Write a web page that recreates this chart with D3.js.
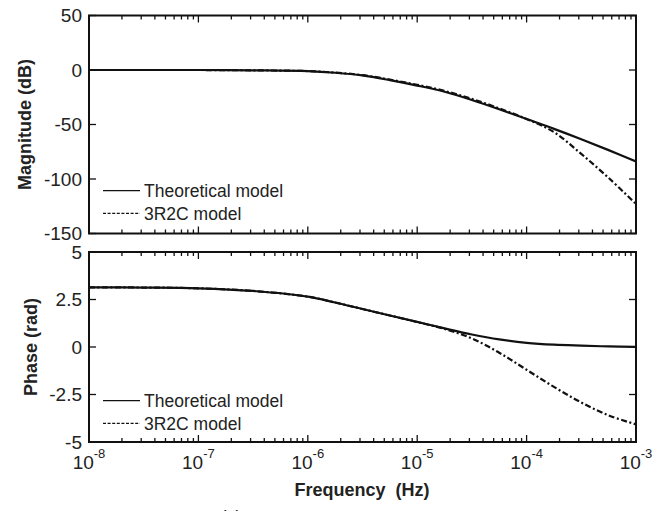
<!DOCTYPE html>
<html>
<head>
<meta charset="utf-8">
<title>Bode plot: theoretical vs 3R2C model</title>
<style type="text/css">
body{ margin: 0; background: #fff; }
svg{ display: block; font-family: "Liberation Sans", Arial, sans-serif; }
.frame{ fill: none; stroke: #111; stroke-width: 2; }
.tick{ stroke: #111; stroke-width: 1.3; }
.curve{ fill: none; stroke: #111; stroke-width: 2.2; }
.dashdot{ stroke-dasharray: 6,2.5,2,2.5; }
.ticklab{ font-size: 19px; fill: #222; }
.axlab{ font-size: 18px; font-weight: bold; fill: #222; }
.legtxt{ font-size: 17.5px; fill: #222; }
</style>
<script type="text/javascript" src="https://cdn.jsdelivr.net/npm/d3@7/dist/d3.min.js"></script>
</head>
<body>
<script>
// frequency grid (Hz)
var freq = [1e-8, 3.16e-8, 1e-7, 3.16e-7, 1e-6, 1.78e-6, 3.16e-6, 5.62e-6, 1e-5,
            1.78e-5, 3.16e-5, 5.62e-5, 1e-4, 1.78e-4, 3.16e-4, 5.62e-4, 1e-3];

// magnitude (dB)
var magTheory = [0, 0, 0, -0.3, -1.0, -2.5, -5, -9.3, -14.3, -20, -27.5, -36, -45, -54, -63.5, -73.5, -84];
var mag3R2C   = [0, 0, 0, -0.3, -1.0, -2.4, -4.7, -8.8, -13.6, -19.2, -26.5, -35.2, -45, -57, -77, -99, -123];

// phase (rad)
var phaseTheory = [3.14, 3.13, 3.09, 2.95, 2.65, 2.34, 2.0, 1.66, 1.32, 0.98, 0.66, 0.40, 0.22, 0.12, 0.07, 0.03, 0.01];
var phase3R2C   = [3.14, 3.13, 3.09, 2.95, 2.65, 2.34, 2.0, 1.66, 1.31, 0.95, 0.45, -0.3, -1.2, -2.1, -2.92, -3.6, -4.07];

var xTicks = [1e-8, 1e-7, 1e-6, 1e-5, 1e-4, 1e-3];
var xTickExp = ["-8", "-7", "-6", "-5", "-4", "-3"];
var magTicks = [50, 0, -50, -100, -150];
var phaseTicks = [5, 2.5, 0, -2.5, -5];
var phaseTickLabels = ["5", "2.5", "0", "-2.5", "-5"];
var legendNames = ["Theoretical model", "3R2C model"];

const width = 666, height = 511;
const left = 89, right = 636;

const svg = d3.select("body").append("svg").attr("width", width).attr("height", height);

const x = d3.scaleLog().domain([1e-8, 1e-3]).range([left, right]);

// minor log ticks
var minor = [];
xTicks.slice(0, -1).forEach(function(t){
  for (var k = 2; k <= 9; k++) minor.push(t * k);
});

function panel(top, bottom, yDomain, yTickVals, yTickText, ylabel, labelX, series, legY, clipId) {
  const y = d3.scaleLinear().domain(yDomain).range([bottom, top]);
  const g = svg.append("g");

  svg.append("defs").append("clipPath").attr("id", clipId)
    .append("rect").attr("x", left).attr("y", top).attr("width", right - left).attr("height", bottom - top);

  // curves
  const line = d3.line().x(d => x(d[0])).y(d => y(d[1])).curve(d3.curveCatmullRom.alpha(0.5));
  series.forEach(function(s, i){
    g.append("path")
      .datum(freq.map((f, j) => [f, s[j]]))
      .attr("class", i === 0 ? "curve" : "curve dashdot")
      .attr("clip-path", "url(#" + clipId + ")")
      .attr("d", line);
  });

  // frame
  g.append("rect").attr("class", "frame")
    .attr("x", left).attr("y", top).attr("width", right - left).attr("height", bottom - top);

  // x ticks, inward, top and bottom
  xTicks.forEach(function(t){
    g.append("line").attr("class", "tick").attr("x1", x(t)).attr("x2", x(t)).attr("y1", bottom).attr("y2", bottom - 7);
    g.append("line").attr("class", "tick").attr("x1", x(t)).attr("x2", x(t)).attr("y1", top).attr("y2", top + 7);
  });
  minor.forEach(function(t){
    g.append("line").attr("class", "tick").attr("x1", x(t)).attr("x2", x(t)).attr("y1", bottom).attr("y2", bottom - 4);
    g.append("line").attr("class", "tick").attr("x1", x(t)).attr("x2", x(t)).attr("y1", top).attr("y2", top + 4);
  });

  // y ticks, inward, left and right
  yTickVals.forEach(function(v, i){
    g.append("line").attr("class", "tick").attr("x1", left).attr("x2", left + 7).attr("y1", y(v)).attr("y2", y(v));
    g.append("line").attr("class", "tick").attr("x1", right).attr("x2", right - 7).attr("y1", y(v)).attr("y2", y(v));
    g.append("text").attr("class", "ticklab")
      .attr("x", left - 7).attr("y", y(v)).attr("dy", "0.36em")
      .attr("text-anchor", "end").text(yTickText[i]);
  });

  // y label
  g.append("text").attr("class", "axlab")
    .attr("transform", "translate(" + labelX + "," + ((top + bottom) / 2) + ") rotate(-90)")
    .attr("text-anchor", "middle").text(ylabel);

  // legend
  legendNames.forEach(function(name, i){
    var ly = legY + i * 22.6;
    g.append("line").attr("class", "curve")
      .style("stroke-width", 1.2)
      .style("stroke-dasharray", i === 0 ? null : "3,1.6")
      .attr("x1", 103).attr("x2", 140).attr("y1", ly).attr("y2", ly);
    g.append("text").attr("class", "legtxt")
      .attr("x", 144).attr("y", ly).attr("dy", "0.36em").text(name);
  });

  return y;
}

panel(15.5, 233.5, [-150, 50], magTicks, magTicks.map(String), "Magnitude (dB)", 31,
      [magTheory, mag3R2C], 190.7, "clipMag");
panel(252, 442, [-5, 5], phaseTicks, phaseTickLabels, "Phase (rad)", 37,
      [phaseTheory, phase3R2C], 400.7, "clipPhase");

// x tick labels 10^n
xTicks.forEach(function(t, i){
  var tx = svg.append("text").attr("class", "ticklab")
    .attr("x", x(t)).attr("y", 469).attr("text-anchor", "middle");
  tx.append("tspan").text("10");
  tx.append("tspan").attr("dy", -11).style("font-size", "13px").text(xTickExp[i]);
});

svg.append("text").attr("class", "axlab")
  .attr("x", 362).attr("y", 496).attr("text-anchor", "middle")
  .attr("xml:space", "preserve").style("white-space", "pre")
  .text("Frequency  (Hz)");

// caption, cut off at the bottom edge
svg.append("text").style("font-size", "18px").style("fill", "#222")
  .attr("x", 231).attr("y", 523).attr("text-anchor", "middle").text("(c)");
</script>
</body>
</html>
